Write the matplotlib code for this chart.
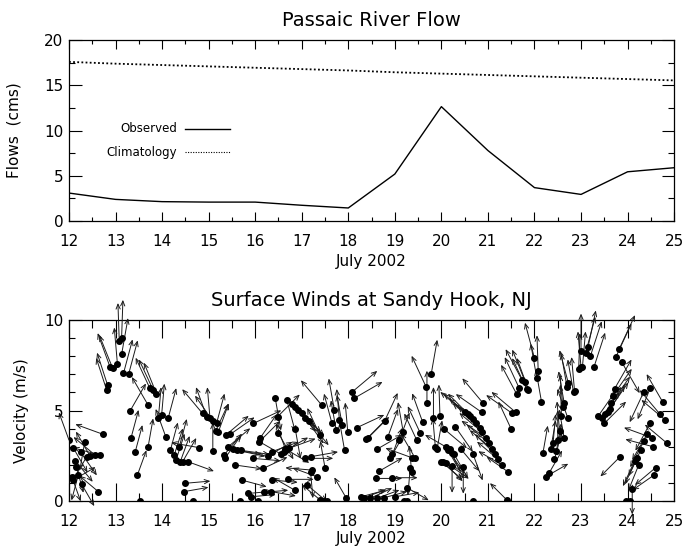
import numpy as np
import matplotlib
matplotlib.use("Agg")
import matplotlib.pyplot as plt
from matplotlib.ticker import MultipleLocator

# --- Passaic River flow (daily) ---
days = [12, 13, 14, 15, 16, 17, 18, 19, 20, 21, 22, 23, 24, 25]
observed = [3.1, 2.4, 2.15, 2.1, 2.1, 1.75, 1.45, 5.2, 12.65, 7.8, 3.7, 2.95, 5.45, 5.9]
climatology = [17.6, 17.4, 17.25, 17.1, 16.95, 16.8, 16.65, 16.45, 16.3, 16.15, 16.0, 15.85, 15.7, 15.55]

# --- Sandy Hook winds: day, speed (m/s), direction the arrow points (deg, 0 = east, 90 = up) ---
wind_day = [
    12.00, 12.09, 12.13, 12.06, 12.09, 12.20, 12.27, 12.34, 12.38, 12.45, 12.56, 12.67, 12.74, 12.63, 12.16, 12.25,
    12.81, 12.83, 12.88, 12.94, 13.04, 13.08, 13.13, 13.13, 13.17, 13.28, 13.31, 13.70, 13.33, 13.42, 13.70, 13.47, 13.53,
    13.74, 13.81, 13.88, 13.92, 13.99, 14.08, 14.13, 14.18, 14.26, 14.30, 14.37, 14.39, 14.44, 14.56, 14.80, 14.49, 14.47, 14.67,
    14.87, 14.96, 15.03, 15.09, 15.09, 15.17, 15.21, 15.15, 15.33, 15.35, 15.42, 15.37, 15.46, 15.53, 15.62, 15.70, 15.57, 15.71, 15.68,
    15.96, 16.09, 16.10, 15.95, 16.17, 15.85, 15.92, 16.18, 16.05,
    16.28, 16.36, 16.43, 16.48, 16.50, 16.55, 16.61, 16.63, 16.66, 16.68, 16.72, 16.80, 16.86, 16.86, 16.93, 17.00, 17.08,
    17.08, 17.15, 17.19, 17.22, 17.33, 17.19, 17.12, 16.36, 16.35, 16.70, 16.85, 17.40, 17.47, 17.55,
    17.39, 17.50, 17.43, 17.65, 17.70, 17.74, 17.81, 17.87, 17.99, 17.92, 17.96,
    18.07, 18.12, 18.18, 18.39, 18.43, 18.78, 18.85, 18.62, 18.67, 18.60, 18.93, 18.28, 18.33, 18.47, 18.61, 18.76, 19.01,
    19.19, 19.26, 18.90, 18.95, 19.10, 19.18, 19.36, 19.43, 19.36, 19.26, 19.33, 19.47, 19.60, 19.55, 19.67, 19.69, 19.78,
    19.83, 19.87, 19.91, 19.97,
    20.00, 20.04, 20.11, 20.18, 20.23, 20.05, 20.10, 20.15, 20.22, 20.27, 20.30, 20.42, 20.47, 20.68, 20.68, 21.41,
    20.50, 20.57, 20.62, 20.68, 20.75, 20.82, 20.88, 20.95, 21.02, 21.08, 21.15, 21.22, 21.30, 21.44, 20.87, 20.90,
    21.50, 21.52, 21.60, 21.62, 21.67, 21.73, 21.80, 21.83, 21.87, 22.00, 22.05, 22.08, 22.15,
    22.18, 22.24, 22.31, 22.35, 22.40, 22.43, 22.47, 22.50, 22.54, 22.58, 22.61, 22.64, 22.64, 22.70, 22.73, 22.72,
    22.84, 22.86, 22.95, 23.00, 23.03, 23.00, 23.10, 23.15, 23.20, 23.28,
    23.37, 23.44, 23.50, 23.52, 23.58, 23.62, 23.65, 23.68, 23.72, 23.75, 23.82, 23.87, 23.84,
    23.96, 24.05, 24.10, 24.15, 24.20, 24.24, 24.28, 24.35, 24.49, 24.35, 24.42, 24.48, 24.52, 24.55, 24.57, 24.60,
    24.70, 24.76, 24.81, 24.85,
]
wind_speed = [
    3.37, 2.95, 2.23, 1.34, 1.16, 1.44, 0.94, 3.28, 2.45, 2.50, 2.54, 2.54, 3.68, 0.52, 1.90, 2.70,
    6.13, 6.40, 7.42, 7.33, 7.60, 8.84, 8.10, 9.00, 7.05, 7.00, 4.97, 5.30, 3.46, 2.69, 3.00, 1.44, 0.00,
    6.22, 6.13, 5.93, 4.57, 4.75, 3.55, 4.57, 2.82, 2.54, 2.27, 3.00, 2.17, 2.17, 2.17, 2.95, 0.98, 0.52, 0.00,
    4.84, 4.66, 4.57, 4.42, 2.76, 4.29, 3.83, 3.87, 2.54, 2.36, 3.00, 3.65, 3.68, 2.85, 2.80, 2.80, 1.99, 1.16, 0.00,
    4.29, 3.28, 3.46, 2.36, 1.80, 0.42, 0.24, 0.48, 0.00,
    2.50, 2.73, 5.70, 4.66, 3.74, 2.60, 2.73, 2.90, 2.80, 5.58, 2.91, 5.35, 5.20, 4.00, 5.05, 4.85, 4.60,
    2.36, 4.40, 2.45, 1.71, 1.34, 1.62, 0.88, 1.16, 0.52, 1.20, 0.60, 0.05, 0.00, 0.00,
    3.65, 1.84, 5.30, 4.29, 5.03, 3.92, 4.48, 4.20, 3.79, 2.82, 0.15,
    6.00, 5.67, 4.05, 3.43, 3.50, 4.42, 3.55, 2.87, 1.66, 1.25, 1.29, 0.24, 0.18, 0.15, 0.15, 0.18, 0.24,
    0.00, 0.00, 2.36, 2.58, 3.37, 3.83, 2.40, 2.40, 1.62, 0.74, 1.80, 3.37, 4.35, 3.74, 6.32, 5.40, 7.00,
    4.57, 3.00, 2.90, 4.70,
    2.17, 2.17, 2.10, 2.87, 1.95, 4.00, 3.00, 2.80, 2.65, 2.60, 4.10, 2.87, 1.90, 2.60, 0.00, 0.05,
    4.90, 4.80, 4.70, 4.55, 4.30, 4.05, 3.80, 3.50, 3.20, 2.90, 2.60, 2.30, 2.00, 1.60, 4.90, 5.40,
    3.98, 4.85, 4.90, 5.90, 6.25, 6.70, 6.60, 6.20, 6.15, 7.90, 6.80, 7.20, 5.50,
    2.63, 1.34, 1.53, 2.90, 3.20, 2.30, 2.75, 3.40, 3.85, 4.70, 5.20, 5.40, 3.46, 6.30, 6.50, 4.57,
    6.00, 6.10, 7.30, 7.40, 7.40, 8.30, 8.20, 8.50, 8.00, 7.42,
    4.70, 4.60, 4.29, 4.80, 4.90, 5.10, 5.40, 5.80, 6.20, 7.97, 8.40, 7.70, 2.45,
    0.00, 0.00, 0.64, 2.20, 2.36, 2.00, 2.80, 6.04, 6.26, 3.30, 3.70, 4.29, 3.50, 3.00, 1.44, 1.84,
    4.79, 5.45, 4.48, 3.19,
]
wind_dir = [
    110, -60, -50, -70, 30, -105, -60, -100, -120, 120, 140, 165, 160, 140, -75, -55,
    108, 108, 110, 112, 95, 92, 80, 88, 75, 75, 60, 120, 75, 75, 80, 70, 0,
    115, 115, 112, 85, 85, 110, 75, 75, 72, 72, 75, 70, 60, -20, 170, 5, 10, 0,
    130, 110, 95, 125, 90, 75, 70, 65, 50, 55, 40, 40, 35, -10, -12, -8, -8, -15, 0,
    25, 45, 55, -5, 25, 5, 5, 5, 0,
    30, 20, -80, 45, -60, 150, 30, -30, 110, -75, 20, -45, -50, -80, -45, -45, -55,
    0, -50, 10, 175, 160, -85, -40, -5, -10, 0, 150, 140, 0, 0,
    115, 100, 130, 105, 100, 100, 95, 100, 95, 100, 120,
    40, 30, 25, 45, 45, 65, 70, 30, 30, 0, 0, 15, 20, 25, 20, 15, 10,
    0, 0, 60, 70, 70, 100, 160, 120, 95, -30, -95, 115, 110, 115, 115, 90, 80,
    90, 95, 80, 92,
    -40, -45, -35, 150, -90, -40, -60, -55, -65, -60, -55, -50, -90, -70, 0, 135,
    140, 140, 135, 140, 140, 135, 140, 145, 140, 140, 135, 140, 150, 145, 145, 130,
    115, 145, 140, 118, 115, 118, 112, 115, 110, 105, 100, 92, 100,
    80, 30, 60, 80, 85, 75, 80, 90, 95, 92, 95, 100, 100, 100, 105, 110,
    100, 95, 88, 95, 85, 90, 75, 78, 72, 72,
    55, 55, 45, 60, 58, 55, 55, 55, 60, 65, 65, -60, -135,
    0, 0, -90, -115, -115, -112, -115, -115, -112, -118, -120, -118, 160, 165, -145, -140,
    130, 120, 140, 140,
]

fig = plt.figure(figsize=(6.83, 5.50), dpi=100)
ax1 = fig.add_axes([0.101, 0.598, 0.886, 0.329])
ax2 = fig.add_axes([0.101, 0.089, 0.886, 0.329])

tick_font = 11

# top panel
ax1.plot(days, observed, color="black", lw=1.0)
ax1.plot(days, climatology, color="black", lw=1.3, linestyle=(0, (1, 1.3)))
ax1.set_xlim(12, 25)
ax1.set_ylim(0, 20)
ax1.xaxis.set_major_locator(MultipleLocator(1))
ax1.xaxis.set_minor_locator(MultipleLocator(0.5))
ax1.yaxis.set_major_locator(MultipleLocator(5))
ax1.yaxis.set_minor_locator(MultipleLocator(2.5))
ax1.tick_params(axis="x", which="major", length=6.5, pad=9)
ax1.tick_params(axis="x", which="minor", length=3)
ax1.tick_params(axis="y", which="major", length=9, pad=4)
ax1.tick_params(axis="y", which="minor", length=4.5)
ax1.set_title("Passaic River Flow", fontsize=14, pad=10)
ax1.set_xlabel("July 2002", fontsize=tick_font, labelpad=4)
ax1.set_ylabel("Flows  (cms)", fontsize=tick_font, labelpad=16)

# in-plot legend
ax1.text(14.33, 10.2, "Observed", fontsize=8.5, ha="right", va="center")
ax1.plot([14.5, 15.45], [10.2, 10.2], color="black", lw=1.0)
ax1.text(14.33, 7.6, "Climatology", fontsize=8.5, ha="right", va="center")
ax1.plot([14.5, 15.45], [7.6, 7.6], color="black", lw=0.8, linestyle=(0, (1, 1.3)))

# bottom panel: wind arrows
for t, s, d in zip(wind_day, wind_speed, wind_dir):
    if s > 0:
        length = (24 + 1.6 * s) * 0.72  # points
        dx = length * np.cos(np.radians(d))
        dy = length * np.sin(np.radians(d))
        ax2.annotate("", xy=(t, s), xytext=(dx, dy), textcoords="offset points",
                     annotation_clip=False,
                     arrowprops=dict(arrowstyle="<-, head_length=0.35, head_width=0.15",
                                     color="#1a1a1a", lw=0.7, shrinkA=0, shrinkB=0))
ax2.plot(wind_day, wind_speed, "o", color="black", ms=4, zorder=5)

ax2.set_xlim(12, 25)
ax2.set_ylim(0, 10)
ax2.xaxis.set_major_locator(MultipleLocator(1))
ax2.xaxis.set_minor_locator(MultipleLocator(0.5))
ax2.yaxis.set_major_locator(MultipleLocator(5))
ax2.yaxis.set_minor_locator(MultipleLocator(1))
ax2.tick_params(axis="x", which="major", length=13, pad=9)
ax2.tick_params(axis="x", which="minor", length=6)
ax2.tick_params(axis="y", which="major", length=9, pad=4)
ax2.tick_params(axis="y", which="minor", length=4.5)
ax2.set_title("Surface Winds at Sandy Hook, NJ", fontsize=14, pad=10)
ax2.set_xlabel("July 2002", fontsize=tick_font, labelpad=2)
ax2.set_ylabel("Velocity (m/s)", fontsize=tick_font, labelpad=11)

for ax in (ax1, ax2):
    ax.tick_params(which="both", direction="in", top=True, right=True, labelsize=tick_font, width=0.8)
    for sp in ax.spines.values():
        sp.set_linewidth(0.9)

fig.savefig("out.png", dpi=100)
